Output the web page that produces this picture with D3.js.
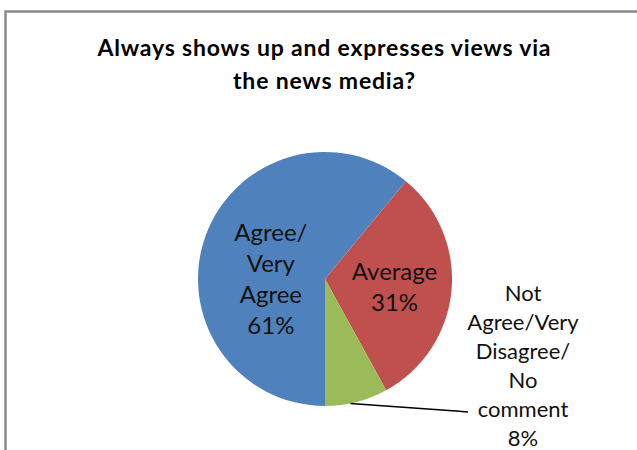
<!DOCTYPE html>
<html>
<head>
<meta charset="utf-8">
<script src="https://cdn.jsdelivr.net/npm/d3@7"></script>
<style>
  html, body { margin: 0; padding: 0; background: #fff; }
  svg { display: block; }
</style>
</head>
<body>
<svg id="chart" width="637" height="450"></svg>
<script>
// ---- data ----
const categories = ["Agree/Very Agree", "Average", "Not Agree/Very Disagree/No comment"];
const values = [61, 31, 8];
const labelLines = [["Agree/", "Very", "Agree"], ["Average"], ["Not", "Agree/Very", "Disagree/", "No", "comment"]];
const titleLines = ["Always shows up and expresses views via", "the news media?"];
const colors = ["#4F81BD", "#C0504D", "#9BBB59"];

// ---- layout ----
const W = 637, H = 450;
const cx = 325, cy = 279, R = 127;
const svg = d3.select("#chart");
const font = "Lato, 'Open Sans', sans-serif";

// frame
svg.append("rect")
  .attr("x", 5.5).attr("y", 11.5).attr("width", W + 20).attr("height", H + 20)
  .attr("fill", "none").attr("stroke", "#8a8a8a").attr("stroke-width", 2.5);

// title
const titleWidths = [453, 182];
titleLines.forEach((t, i) => {
  svg.append("text")
    .attr("text-anchor", "middle")
    .attr("font-family", font).attr("font-weight", "bold")
    .attr("font-size", 23).attr("fill", "#000")
    .attr("x", 324).attr("y", 56 + i * 33)
    .attr("textLength", titleWidths[i]).attr("lengthAdjust", "spacing")
    .text(t);
});

// pie
const pie = d3.pie().sort(null).value(d => d).startAngle(Math.PI).endAngle(3 * Math.PI);
const arcs = pie(values);
const arc = d3.arc().innerRadius(0).outerRadius(R);
const g = svg.append("g").attr("transform", `translate(${cx},${cy})`);
g.selectAll("path.slice").data(arcs).enter().append("path")
  .attr("class", "slice")
  .attr("d", arc)
  .attr("fill", (d, i) => colors[i]);

const fs = 24, lh = 31;
const labelFrac = [0.52, 0.55, 0];
const labelNudge = [[8, 22], [0, 1], [0, 0]];

// inside labels (first two)
arcs.forEach((d, i) => {
  if (i === 2) return;
  const a = (d.startAngle + d.endAngle) / 2;
  const r = R * labelFrac[i];
  const px = Math.sin(a) * r + labelNudge[i][0];
  const py = -Math.cos(a) * r + labelNudge[i][1];
  const lines = labelLines[i].concat([Math.round(d.value) + "%"]);
  const t = g.append("text").attr("text-anchor", "middle")
    .attr("font-family", font).attr("font-size", fs).attr("fill", "#111");
  const top = py - (lines.length * lh) / 2;
  lines.forEach((s, k) => {
    t.append("tspan").attr("x", px).attr("y", top + (k + 0.78) * lh).text(s);
  });
});

// outside label with leader line for last slice
const dS = arcs[2];
const aS = (dS.startAngle + dS.endAngle) / 2;
const p0 = [Math.sin(aS + 0.05) * R, -Math.cos(aS + 0.05) * R];
const linesS = labelLines[2].concat([Math.round(dS.value) + "%"]);
const lxAbs = 523, firstBase = 301, lh2 = 29;
const commentIdx = 4;
const leaderY = firstBase + commentIdx * lh2 - 5 - cy;
const leaderEndX = 468 - cx;
g.append("path")
  .attr("d", d3.line()([p0, [leaderEndX - 12, leaderY - 1], [leaderEndX, leaderY]]))
  .attr("fill", "none").attr("stroke", "#000").attr("stroke-width", 1.5);
const tS = svg.append("text").attr("text-anchor", "middle")
  .attr("font-family", font).attr("font-size", 22).attr("fill", "#111");
linesS.forEach((s, k) => {
  tS.append("tspan").attr("x", lxAbs).attr("y", firstBase + k * lh2).text(s);
});
</script>
</body>
</html>
